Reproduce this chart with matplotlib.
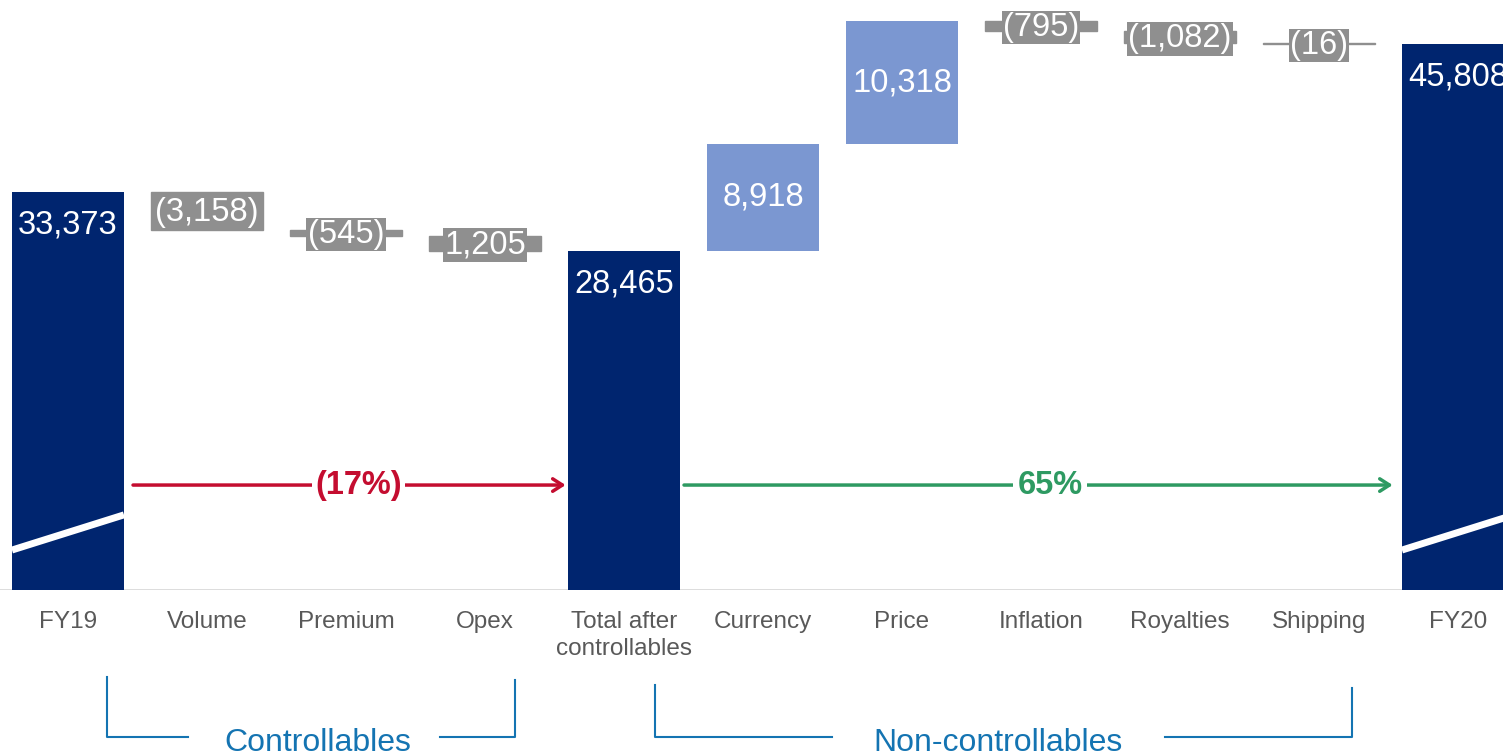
import numpy as np
import matplotlib.pyplot as plt
from matplotlib.lines import Line2D

plt.rcParams['font.family'] = ['Liberation Sans', 'DejaVu Sans']

categories = ['FY19', 'Volume', 'Premium', 'Opex', 'Total after\ncontrollables',
              'Currency', 'Price', 'Inflation', 'Royalties', 'Shipping', 'FY20']
values = [33373, -3158, -545, -1205, 28465, 8918, 10318, -795, -1082, -16, 45808]
kinds = ['total', 'neg', 'neg', 'neg', 'total', 'pos', 'pos', 'neg', 'neg', 'neg', 'total']
labels = ['33,373', '(3,158)', '(545)', '1,205', '28,465', '8,918', '10,318',
          '(795)', '(1,082)', '(16)', '45,808']

groups = ['Controllables', 'Non-controllables']
pct_labels = ['(17%)', '65%']

navy = '#00256F'
light = '#7B97D1'
gray = '#8F8F8F'
red = '#C40D30'
green = '#2E9A62'
blue = '#1474B2'

W, H = 1503, 753
fig = plt.figure(figsize=(W / 100, H / 100), dpi=100)
ax = fig.add_axes([0, (H - 590) / H, 1, 590 / H])

# running waterfall
x = np.arange(len(categories))
bottoms, heights = [], []
level = 0
for v, k in zip(values, kinds):
    if k == 'total':
        bottoms.append(0)
        heights.append(v)
        level = v
    else:
        bottoms.append(level + min(v, 0))
        heights.append(abs(v))
        level += v

colors = {'total': navy, 'pos': light, 'neg': gray}
bw = 0.806
fs = 23.5
for i in x:
    c = colors[kinds[i]]
    ax.bar(i, heights[i], bw, bottom=bottoms[i], color=c,
           edgecolor=c if kinds[i] == 'neg' else 'none', linewidth=1, zorder=2)
    top = bottoms[i] + heights[i]
    if kinds[i] == 'total':
        ax.annotate(labels[i], (i, top), xytext=(0, -24), textcoords='offset points',
                    ha='center', va='center', color='white', fontsize=fs, zorder=4)
    elif kinds[i] == 'pos':
        ax.text(i, bottoms[i] + heights[i] / 2, labels[i], ha='center', va='center',
                color='white', fontsize=fs, zorder=4)
    else:
        ax.text(i, bottoms[i] + heights[i] / 2 - 150, labels[i], ha='center', va='center',
                color='white', fontsize=fs, zorder=4,
                bbox=dict(boxstyle='square,pad=0.04', fc=gray, ec='none'))

# axis break marks on the totals
for i in [0, 10]:
    ax.plot([i - bw / 2, i + bw / 2], [3350, 6300], color='white', lw=5,
            solid_capstyle='butt', zorder=3)

ax.set_xlim(-0.489, 10.324)
ax.set_ylim(0, 49470)
ax.axhline(0, color='#D9D9D9', lw=2, zorder=1)
for s in ax.spines.values():
    s.set_visible(False)
ax.set_yticks([])
ax.set_xticks(x)
ax.set_xticklabels(categories, fontsize=17.5, color='#595959', linespacing=1.3)
ax.tick_params(axis='x', length=0, pad=15)

# growth arrows
ya = 8800
ax.annotate('', xy=(3.58, ya), xytext=(0.468, ya),
            arrowprops=dict(arrowstyle='->,head_length=0.7,head_width=0.45', color=red, lw=2.5,
                            shrinkA=0, shrinkB=0))
ax.text(2.09, ya, pct_labels[0], ha='center', va='center', color=red, fontsize=fs,
        fontweight='bold', bbox=dict(boxstyle='square,pad=0.1', fc='white', ec='none'))
ax.annotate('', xy=(9.53, ya), xytext=(4.432, ya),
            arrowprops=dict(arrowstyle='->,head_length=0.7,head_width=0.45', color=green, lw=2.5,
                            shrinkA=0, shrinkB=0))
ax.text(7.065, ya, pct_labels[1], ha='center', va='center', color=green, fontsize=fs,
        fontweight='bold', bbox=dict(boxstyle='square,pad=0.15', fc='white', ec='none'))


# group brackets below the axis (pixel positions)
def fline(xs, ys):
    fig.add_artist(Line2D([p / W for p in xs], [1 - p / H for p in ys],
                          color=blue, lw=1.5, transform=fig.transFigure))


fline([107, 107, 188], [677, 737, 737])
fline([440, 515, 515], [737, 737, 680])
fline([655, 655, 832], [685, 737, 737])
fline([1165, 1352, 1352], [737, 737, 688])
fig.text(318 / W, 1 - 751 / H, groups[0], ha='center', va='baseline', color=blue, fontsize=23)
fig.text(998 / W, 1 - 751 / H, groups[1], ha='center', va='baseline', color=blue, fontsize=23)

fig.savefig('out.png', dpi=100)
